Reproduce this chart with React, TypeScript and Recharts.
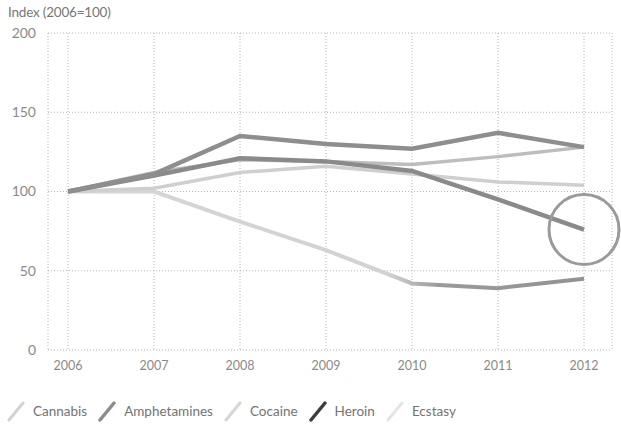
import { LineChart, Line, XAxis, YAxis, CartesianGrid, ReferenceDot, Legend } from "recharts"

const years = ["2006", "2007", "2008", "2009", "2010", "2011", "2012"]
const cannabis = [100, 100, 81, 63, 42, 39, 45]
const amphetamines = [100, 111, 135, 130, 127, 137, 128]
const cocaine = [100, 112, 120, 119, 117, 122, 128]
const heroin = [100, 110, 121, 119, 113, 95, 76]
const ecstasy = [100, 102, 112, 116, 111, 106, 104]
const yTicks = [0, 50, 100, 150, 200]

const data = years.map((year, i) => ({
  year,
  Cannabis: cannabis[i],
  Amphetamines: amphetamines[i],
  Cocaine: cocaine[i],
  Heroin: heroin[i],
  Ecstasy: ecstasy[i],
}))

const legendItems = [
  { name: "Cannabis", color: "#d2d2d2", width: 3 },
  { name: "Amphetamines", color: "#8c8c8c", width: 3.5 },
  { name: "Cocaine", color: "#d6d6d6", width: 3 },
  { name: "Heroin", color: "#3e3e3e", width: 3.5 },
  { name: "Ecstasy", color: "#e4e4e4", width: 3 },
]

function LegendContent() {
  return (
    <div style={{ display: "flex", alignItems: "center", fontFamily: "Lato", fontSize: 13.5, color: "#747474" }}>
      {legendItems.map((item) => (
        <div key={item.name} style={{ display: "flex", alignItems: "center", marginRight: 10 }}>
          <svg width={20} height={22} style={{ marginRight: 7 }}>
            <line x1={3} y1={20} x2={17} y2={3} stroke={item.color} strokeWidth={item.width} strokeLinecap="round" />
          </svg>
          <span>{item.name}</span>
        </div>
      ))}
    </div>
  )
}

export default function App() {
  return (
    <div style={{ position: "absolute", left: 0, top: 0, width: 621, height: 429, background: "#fff" }}>
      <div
        style={{
          position: "absolute",
          left: 8,
          top: 4,
          fontFamily: "Lato",
          fontSize: 13.5,
          color: "#777",
          letterSpacing: -0.2,
        }}
      >
        Index (2006=100)
      </div>
      <LineChart width={621} height={429} data={data} margin={{ top: 33, right: 9, left: 8, bottom: 49 }}>
        <defs>
          <linearGradient id="cannabisGrad" x1="0" y1="0" x2="1" y2="0">
            <stop offset="0" stopColor="#d6d6d6" />
            <stop offset="0.62" stopColor="#d2d2d2" />
            <stop offset="0.72" stopColor="#9a9a9a" />
            <stop offset="1" stopColor="#929292" />
          </linearGradient>
        </defs>
        <CartesianGrid stroke="#b4b4b4" strokeDasharray="1 2" />
        <XAxis
          dataKey="year"
          scale="point"
          padding={{ left: 20, right: 28 }}
          axisLine={false}
          tickLine={false}
          tickMargin={5}
          tick={{ fill: "#8a8a8a", fontSize: 12.5, fontFamily: "Lato" }}
        />
        <YAxis
          width={40}
          domain={[0, 200]}
          ticks={yTicks}
          axisLine={false}
          tickLine={false}
          tickMargin={6}
          tick={{ fill: "#8a8a8a", fontSize: 14, fontFamily: "Lato" }}
        />
        <Line dataKey="Cannabis" stroke="url(#cannabisGrad)" strokeWidth={4} dot={false} isAnimationActive={false} />
        <Line dataKey="Ecstasy" stroke="#cfcfcf" strokeWidth={3.5} dot={false} isAnimationActive={false} />
        <Line dataKey="Cocaine" stroke="#bdbdbd" strokeWidth={3.5} dot={false} isAnimationActive={false} />
        <Line dataKey="Heroin" stroke="#8a8a8a" strokeWidth={4.5} dot={false} isAnimationActive={false} />
        <Line dataKey="Amphetamines" stroke="#8e8e8e" strokeWidth={4.5} dot={false} isAnimationActive={false} />
        <ReferenceDot x="2012" y={76} r={35} fill="none" stroke="#9a9a9a" strokeWidth={3} ifOverflow="visible" />
        <Legend
          verticalAlign="middle"
          layout="horizontal"
          content={<LegendContent />}
          wrapperStyle={{ position: "absolute", left: 6, top: 400, width: 610 }}
        />
      </LineChart>
    </div>
  )
}
